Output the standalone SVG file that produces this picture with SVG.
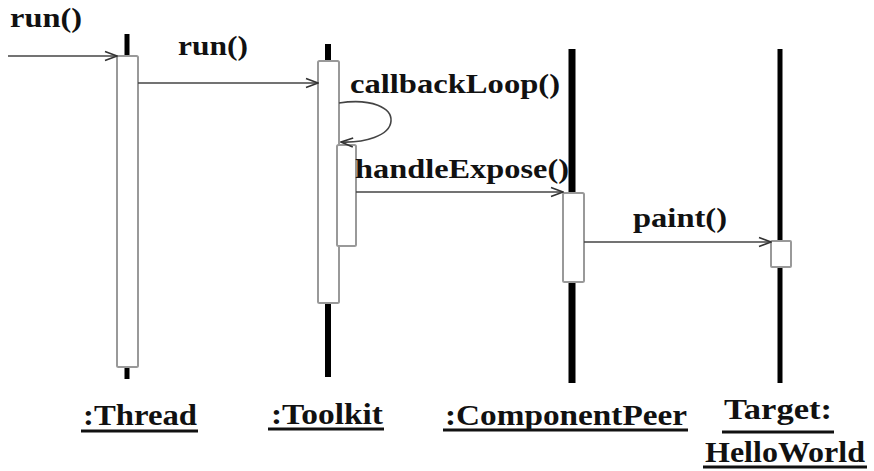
<svg xmlns="http://www.w3.org/2000/svg" width="874" height="471" viewBox="0 0 874 471">
  <style>
    .life { stroke: #000; stroke-linecap: butt; }
    .act { fill: #fff; stroke: #999; stroke-width: 2; }
    .msg { fill: none; stroke: #444; stroke-width: 1.6; }
    .lbl { font-family: "Liberation Serif", "Times New Roman", serif; font-weight: bold; font-size: 27px; fill: #111; }
    .name { font-family: "Liberation Serif", "Times New Roman", serif; font-weight: bold; font-size: 30px; fill: #111; }
    .ul { stroke: #111; stroke-width: 3; }
  </style>
  <defs>
    <marker id="open" markerWidth="14" markerHeight="12" refX="13" refY="6" orient="auto" markerUnits="userSpaceOnUse">
      <path d="M1,1.5 L13,6 L1,10.5" fill="none" stroke="#333" stroke-width="1.6"/>
    </marker>
  </defs>
  <rect width="874" height="471" fill="#fff"/>

  <!-- :Thread -->
  <g id="thread">
    <line class="life" x1="127" y1="34" x2="127" y2="379" stroke-width="5"/>
    <rect class="act" x="117" y="56" width="21" height="311" rx="1.5"/>
    <text class="name" x="83" y="425" textLength="114" lengthAdjust="spacingAndGlyphs">:Thread</text>
    <line class="ul" x1="81" y1="431" x2="198" y2="431"/>
  </g>

  <!-- :Toolkit -->
  <g id="toolkit">
    <line class="life" x1="328" y1="44" x2="328" y2="377" stroke-width="6"/>
    <rect class="act" x="318" y="61" width="21" height="242" rx="1.5"/>
    <rect class="act" x="337" y="145" width="19" height="101" rx="1.5"/>
    <text class="name" x="271" y="424" textLength="112" lengthAdjust="spacingAndGlyphs">:Toolkit</text>
    <line class="ul" x1="268" y1="429" x2="384" y2="429"/>
  </g>

  <!-- :ComponentPeer -->
  <g id="componentpeer">
    <line class="life" x1="572" y1="49" x2="572" y2="383" stroke-width="7"/>
    <rect class="act" x="563" y="193" width="21" height="89" rx="1.5"/>
    <text class="name" x="445" y="425" textLength="242" lengthAdjust="spacingAndGlyphs">:ComponentPeer</text>
    <line class="ul" x1="443" y1="430" x2="688" y2="430"/>
  </g>

  <!-- Target: HelloWorld -->
  <g id="helloworld">
    <line class="life" x1="780" y1="49" x2="780" y2="383" stroke-width="5"/>
    <rect class="act" x="771" y="241" width="20" height="26" rx="1"/>
    <text class="name" x="724" y="419" textLength="108" lengthAdjust="spacingAndGlyphs">Target:</text>
    <line class="ul" x1="722" y1="432" x2="834" y2="432"/>
    <text class="name" x="705" y="462" textLength="160" lengthAdjust="spacingAndGlyphs">HelloWorld</text>
    <line class="ul" x1="703" y1="467" x2="867" y2="467"/>
  </g>

  <!-- messages -->
  <g id="messages">
    <line class="msg" x1="8" y1="56" x2="117" y2="56" marker-end="url(#open)"/>
    <text class="lbl" x="10" y="27" textLength="72" lengthAdjust="spacingAndGlyphs">run()</text>

    <line class="msg" x1="138" y1="83" x2="318" y2="83" marker-end="url(#open)"/>
    <text class="lbl" x="178" y="55" textLength="70" lengthAdjust="spacingAndGlyphs">run()</text>

    <path class="msg" d="M339,103 C372,98 392,108 391,121 C390,136 364,143 341,142" marker-end="url(#open)"/>
    <text class="lbl" x="350" y="93" textLength="210" lengthAdjust="spacingAndGlyphs">callbackLoop()</text>

    <line class="msg" x1="356" y1="192" x2="563" y2="192" marker-end="url(#open)"/>
    <text class="lbl" x="355" y="178" textLength="214" lengthAdjust="spacingAndGlyphs">handleExpose()</text>

    <line class="msg" x1="584" y1="242" x2="771" y2="242" marker-end="url(#open)"/>
    <text class="lbl" x="633" y="227" textLength="94" lengthAdjust="spacingAndGlyphs">paint()</text>
  </g>
</svg>
